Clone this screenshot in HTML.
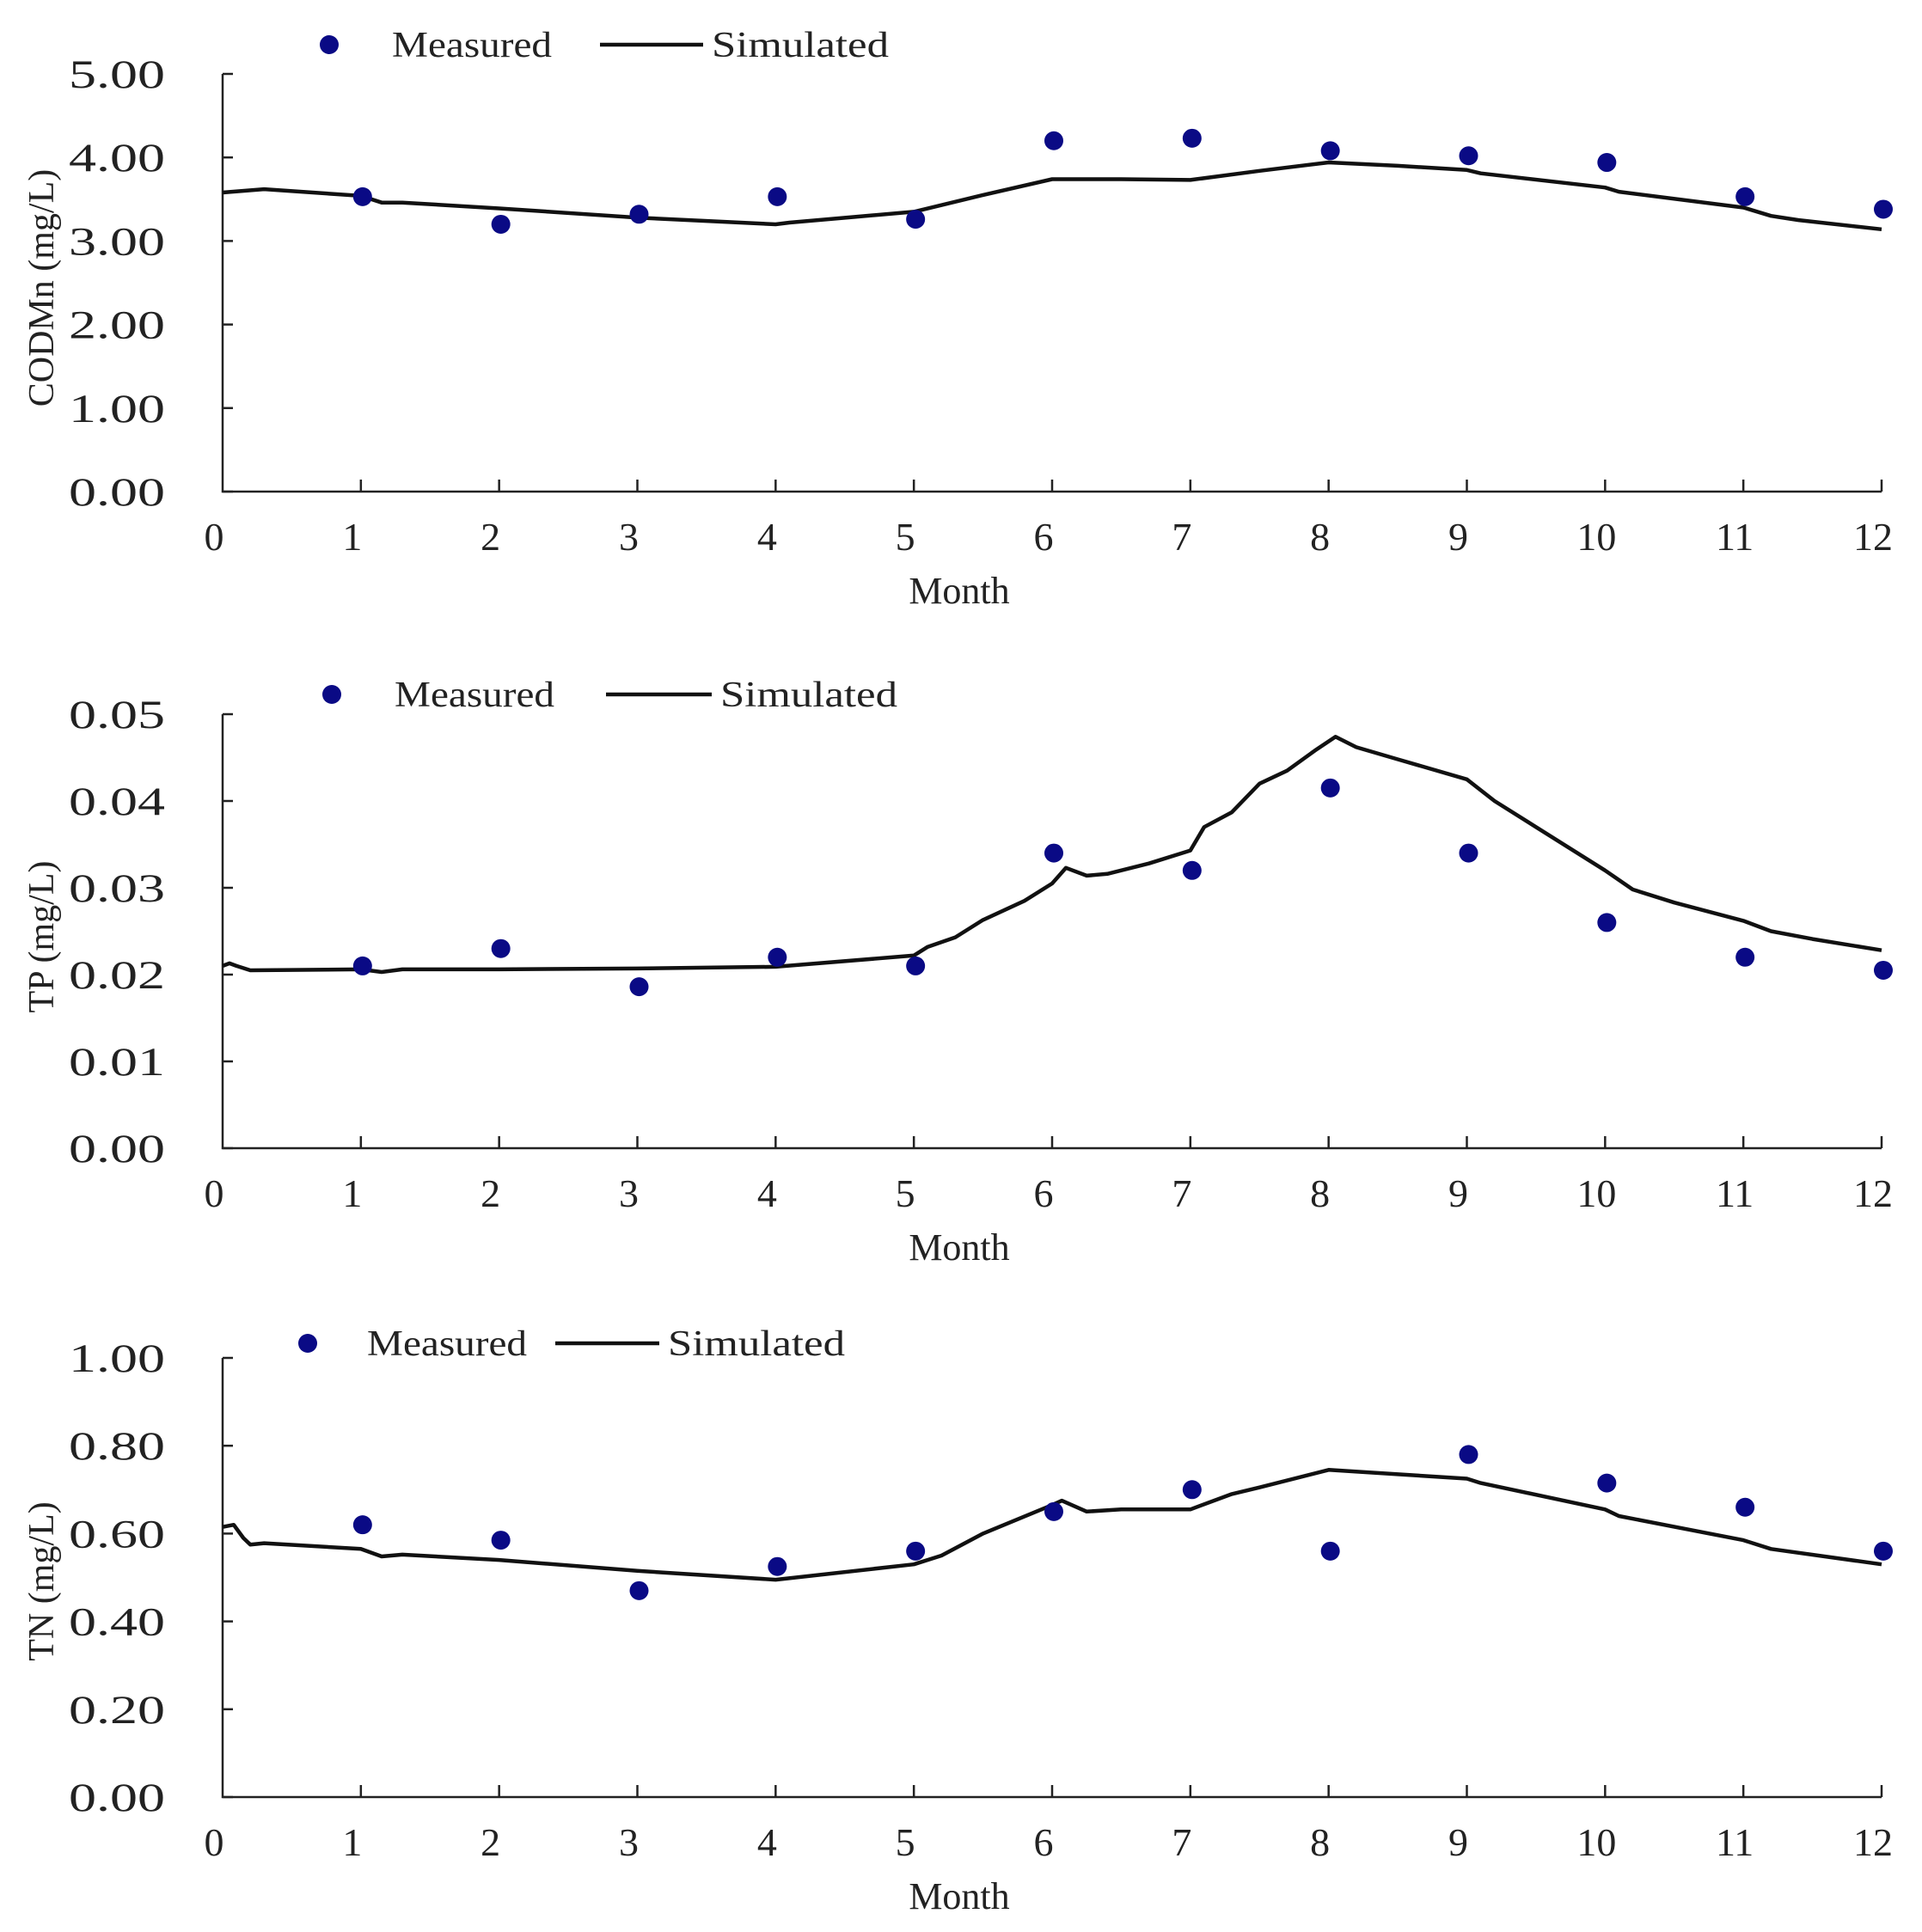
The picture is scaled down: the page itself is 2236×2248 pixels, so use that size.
<!DOCTYPE html>
<html><head><meta charset="utf-8"><style>
html,body{margin:0;padding:0;background:#fff}
svg{display:block}
text{font-family:"Liberation Serif","Noto Serif CJK SC",serif;fill:#222}
</style></head><body>
<svg id="chart" width="2236" height="2248" viewBox="0 0 2236 2248" xmlns="http://www.w3.org/2000/svg"></svg>
<script>
const months = [0,1,2,3,4,5,6,7,8,9,10,11,12];
const codMeasured = [3.53,3.20,3.32,3.53,3.26,4.20,4.23,4.08,4.02,3.94,3.53,3.38];
const codSimX = [0,0.3,1,1.15,1.3,2,3,4,4.1,5,5.5,6,6.5,7,7.5,8,8.5,9,9.1,10,10.1,11,11.2,11.4,12];
const codSimY = [3.58,3.62,3.54,3.46,3.46,3.39,3.28,3.20,3.22,3.35,3.55,3.74,3.74,3.73,3.84,3.94,3.90,3.85,3.81,3.64,3.59,3.40,3.30,3.25,3.14];
const codTicks = ["0.00","1.00","2.00","3.00","4.00","5.00"];

const tpMeasured = [0.021,0.023,0.0186,0.022,0.021,0.034,0.032,0.0415,0.034,0.026,0.022,0.0205];
const tpSimX = [0,0.05,0.1,0.2,1,1.15,1.3,2,3,4,5,5.1,5.3,5.5,5.8,6,6.1,6.25,6.4,6.7,7,7.1,7.3,7.5,7.7,7.9,8.05,8.2,8.5,9,9.2,9.5,10,10.2,10.5,11,11.2,11.5,12];
const tpSimY = [0.021,0.0213,0.021,0.0205,0.0206,0.0203,0.0206,0.0206,0.0207,0.0209,0.0222,0.0232,0.0243,0.0263,0.0285,0.0305,0.0323,0.0314,0.0316,0.0328,0.0343,0.037,0.0387,0.042,0.0435,0.0458,0.0474,0.0462,0.0448,0.0425,0.040,0.037,0.032,0.0298,0.0283,0.0262,0.0250,0.0241,0.0228];
const tpTicks = ["0.00","0.01","0.02","0.03","0.04","0.05"];

const tnMeasured = [0.62,0.585,0.47,0.525,0.56,0.65,0.70,0.56,0.78,0.715,0.66,0.56];
const tnSimX = [0,0.08,0.15,0.2,0.3,1,1.15,1.3,2,3,4,5,5.2,5.5,6,6.07,6.25,6.5,7,7.3,7.5,8,8.5,9,9.1,10,10.1,11,11.2,12];
const tnSimY = [0.615,0.62,0.59,0.575,0.578,0.565,0.548,0.552,0.54,0.515,0.495,0.53,0.55,0.60,0.665,0.675,0.65,0.655,0.655,0.69,0.705,0.745,0.735,0.725,0.715,0.655,0.64,0.585,0.565,0.53];
const tnTicks = ["0.00","0.20","0.40","0.60","0.80","1.00"];

const NS = "http://www.w3.org/2000/svg";
const svg = document.getElementById('chart');
function mk(tag, attrs, parent){const e=document.createElementNS(NS,tag);for(const k in attrs)e.setAttribute(k,attrs[k]);(parent||svg).appendChild(e);return e;}

function panel(cfg){
  const g = mk('g',{});
  
  
  const x0=259, x1=2189, top=cfg.top, bot=cfg.bot;
  const xs = m => x0 + (x1-x0)*m/12;
  const ys = v => bot - (bot-top)*v/cfg.ymax;
  const ax = mk('path',{d:`M${x0},${top} V${bot} H${x1}`,stroke:'#222','stroke-width':2.5,fill:'none'},g);
  
  
  cfg.ticks.forEach((t,i)=>{
    const v = cfg.ymax*i/(cfg.ticks.length-1);
    mk('line',{x1:x0,x2:x0+12,y1:ys(v),y2:ys(v),stroke:'#222','stroke-width':2.5},g);
    const tx = mk('text',{x:192,y:ys(v)+16,'font-size':47,'text-anchor':'end',textLength:112,lengthAdjust:'spacingAndGlyphs'},g);
    tx.textContent=t;
    
    
  });
  months.forEach(m=>{
    if(m>0) mk('line',{x1:xs(m),x2:xs(m),y1:bot,y2:bot-14,stroke:'#222','stroke-width':2.5},g);
    const tx = mk('text',{x:xs(m)-10,y:bot+68,'font-size':46,'text-anchor':'middle'},g);
    tx.textContent=String(m);
    
    
  });
  const xt = mk('text',{x:1116,y:bot+130,'font-size':44,'text-anchor':'middle'},g);
  xt.textContent='Month';
  
  
  const yt = mk('text',{transform:`translate(62,${cfg.titleY}) rotate(-90)`,'font-size':42,'text-anchor':'middle'},g);
  yt.textContent=cfg.ylabel;
  
  
  const d = cfg.sx.map((m,i)=>(i?'L':'M')+xs(m).toFixed(1)+','+ys(cfg.sy[i]).toFixed(1)).join(' ');
  const ln = mk('path',{d,stroke:'#111','stroke-width':4.5,fill:'none','stroke-linejoin':'round'},g);
  
  
  cfg.meas.forEach((v,i)=>{
    const c = mk('circle',{cx:xs(i+1)+2,cy:ys(v),r:11,fill:'#0a0a85'},g);
    
    
  });
  const L = cfg.leg;
  const lg = mk('g',{},g);
  
  
  mk('circle',{cx:L.dot,cy:L.y,r:11,fill:'#0a0a85'},lg);
  const t1 = mk('text',{x:L.meas,y:L.y+14,'font-size':42,textLength:186,lengthAdjust:'spacingAndGlyphs'},lg);
  t1.textContent='Measured';
  mk('line',{x1:L.l1,x2:L.l2,y1:L.y,y2:L.y,stroke:'#111','stroke-width':4.5},lg);
  const t2 = mk('text',{x:L.l2+10,y:L.y+14,'font-size':42,textLength:206,lengthAdjust:'spacingAndGlyphs'},lg);
  t2.textContent='Simulated';
}

panel({name:'codmn',top:86,bot:572,ymax:5,ticks:codTicks,ylabel:'CODMn (mg/L)',titleY:335,meas:codMeasured,sx:codSimX,sy:codSimY,
  leg:{y:52,dot:383,meas:456,l1:698,l2:818}});
panel({name:'tp',top:831,bot:1336,ymax:0.05,ticks:tpTicks,ylabel:'TP (mg/L)',titleY:1090,meas:tpMeasured,sx:tpSimX,sy:tpSimY,
  leg:{y:808,dot:386,meas:459,l1:705,l2:828}});
panel({name:'tn',top:1580,bot:2091,ymax:1,ticks:tnTicks,ylabel:'TN (mg/L)',titleY:1840,meas:tnMeasured,sx:tnSimX,sy:tnSimY,
  leg:{y:1563,dot:358,meas:427,l1:646,l2:767}});
</script>
</body></html>
